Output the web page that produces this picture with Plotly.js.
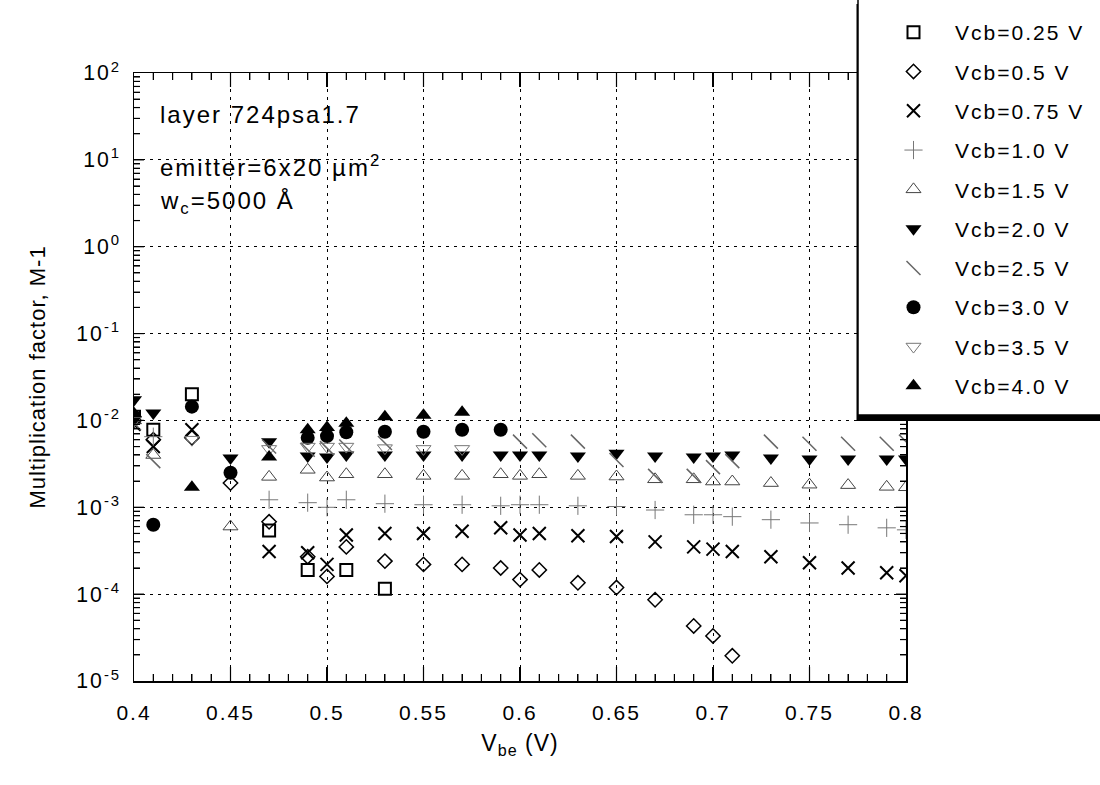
<!DOCTYPE html>
<html>
<head>
<meta charset="utf-8">
<script src="https://cdn.plot.ly/plotly-3.0.1.min.js"></script>
<style>
  html, body { margin: 0; padding: 0; background: #fff; }
  #chart { width: 1100px; height: 785px; }
  .xtick text, .ytick text { letter-spacing: 2px; }
  .legendtext { letter-spacing: 2px; }
  .annotation-text { letter-spacing: 2px; }
  text.xtitle, text.ytitle { letter-spacing: 1px; }
</style>
</head>
<body>
<div id="chart"></div>
<script>
// ---- data (Vbe in V, M-1) ----
const seriesNames = ['Vcb=0.25 V','Vcb=0.5 V','Vcb=0.75 V','Vcb=1.0 V','Vcb=1.5 V',
                     'Vcb=2.0 V','Vcb=2.5 V','Vcb=3.0 V','Vcb=3.5 V','Vcb=4.0 V'];

const vcb025_x = [0.40,0.41,0.43,0.47,0.49,0.51,0.53];
const vcb025_y = [0.011,0.0078,0.020,5.4e-4,1.9e-4,1.9e-4,1.15e-4];

const vcb05_x = [0.40,0.41,0.43,0.45,0.47,0.49,0.50,0.51,0.53,0.55,0.57,0.59,0.60,0.61,0.63,0.65,0.67,0.69,0.70,0.71];
const vcb05_y = [0.010,0.0060,0.0063,0.0019,6.8e-4,2.7e-4,1.6e-4,3.5e-4,2.4e-4,2.2e-4,2.2e-4,2.0e-4,1.47e-4,1.9e-4,1.35e-4,1.19e-4,8.6e-5,4.3e-5,3.3e-5,1.95e-5];

const vcb075_x = [0.40,0.41,0.43,0.47,0.49,0.50,0.51,0.53,0.55,0.57,0.59,0.60,0.61,0.63,0.65,0.67,0.69,0.70,0.71,0.73,0.75,0.77,0.79,0.80];
const vcb075_y = [0.009,0.0050,0.0078,3.1e-4,3.0e-4,2.2e-4,4.8e-4,5.0e-4,5.0e-4,5.3e-4,5.8e-4,4.8e-4,5.0e-4,4.7e-4,4.6e-4,4.0e-4,3.5e-4,3.3e-4,3.1e-4,2.7e-4,2.3e-4,2.0e-4,1.76e-4,1.63e-4];

const vcb10_x = [0.40,0.41,0.47,0.49,0.50,0.51,0.53,0.55,0.57,0.59,0.60,0.61,0.63,0.65,0.67,0.69,0.70,0.71,0.73,0.75,0.77,0.79,0.80];
const vcb10_y = [0.010,0.0065,0.00122,0.00113,0.0010,0.00122,0.0011,0.00107,0.00107,0.00104,0.00107,0.00107,0.00104,0.00102,9.3e-4,8.2e-4,8.2e-4,7.8e-4,7.2e-4,6.6e-4,6.3e-4,5.8e-4,5.5e-4];

const vcb15_x = [0.40,0.41,0.45,0.47,0.49,0.50,0.51,0.53,0.55,0.57,0.59,0.60,0.61,0.63,0.65,0.67,0.69,0.70,0.71,0.73,0.75,0.77,0.79,0.80];
const vcb15_y = [0.010,0.0040,6.0e-4,0.00224,0.0027,0.0022,0.0024,0.0024,0.0023,0.0023,0.0024,0.0023,0.0024,0.0023,0.00226,0.0021,0.0021,0.00198,0.00198,0.0019,0.00182,0.0018,0.00172,0.0017];

const vcb20_x = [0.40,0.41,0.45,0.47,0.49,0.50,0.51,0.53,0.55,0.57,0.59,0.60,0.61,0.63,0.65,0.67,0.69,0.70,0.71,0.73,0.75,0.77,0.79,0.80];
const vcb20_y = [0.0173,0.0122,0.0037,0.0057,0.0039,0.0038,0.0040,0.0040,0.0040,0.0040,0.0040,0.0040,0.0040,0.0039,0.0042,0.0039,0.0038,0.0039,0.0040,0.0037,0.0036,0.0036,0.0036,0.0036];

const vcb25_x = [0.40,0.41,0.47,0.49,0.50,0.51,0.53,0.60,0.61,0.63,0.65,0.67,0.69,0.70,0.71,0.73,0.75,0.77,0.79,0.80];
const vcb25_y = [0.0093,0.0034,0.0050,0.0046,0.0048,0.0050,0.0055,0.0057,0.0059,0.0057,0.0035,0.0023,0.0023,0.0029,0.0034,0.0057,0.0054,0.0054,0.0054,0.0057];

const vcb30_x = [0.40,0.41,0.43,0.45,0.49,0.50,0.51,0.53,0.55,0.57,0.59];
const vcb30_y = [0.011,6.3e-4,0.0144,0.0025,0.0063,0.0066,0.0073,0.0074,0.0074,0.0078,0.0078];

const vcb35_x = [0.40,0.43,0.47,0.49,0.50,0.51,0.53,0.55,0.57];
const vcb35_y = [0.010,0.0060,0.0047,0.0050,0.0050,0.0050,0.0048,0.0047,0.0047];

const vcb40_x = [0.40,0.43,0.47,0.49,0.50,0.51,0.53,0.55,0.57];
const vcb40_y = [0.012,0.0017,0.0038,0.0078,0.0083,0.0093,0.011,0.0115,0.0124];

// tick labels
const yTickExp  = [-5,-4,-3,-2,-1,0,1,2];
const yTickText = ['10<sup>-5</sup>','10<sup>-4</sup>','10<sup>-3</sup>','10<sup>-2</sup>',
                   '10<sup>-1</sup>','10<sup>0</sup>','10<sup>1</sup>','10<sup>2</sup>'];
const xTickText = ['0.4','0.45','0.5','0.55','0.6','0.65','0.7','0.75','0.8'];

// map Plotly's default power-format labels onto the reference's labels
const yAlias = {};
yTickExp.forEach((p, i) => {
  let def;
  if (p === 0) def = '1';
  else if (p === 1) def = '10';
  else def = '10<sup>' + (p > 1 ? '' : '\u2212') + Math.abs(p) + '</sup>';
  yAlias[def] = yTickText[i];
});
const xAlias = {};
xTickText.forEach(t => { xAlias[t] = t; });

// ---- styles ----
const xs = [vcb025_x,vcb05_x,vcb075_x,vcb10_x,vcb15_x,vcb20_x,vcb25_x,vcb30_x,vcb35_x,vcb40_x];
const ys = [vcb025_y,vcb05_y,vcb075_y,vcb10_y,vcb15_y,vcb20_y,vcb25_y,vcb30_y,vcb35_y,vcb40_y];
const markers = [
  {symbol:'square-open', size:12, color:'#000', line:{width:2, color:'#000'}},
  {symbol:'diamond-open', size:11, color:'#000', line:{width:1.5, color:'#000'}},
  {symbol:'x-thin-open', size:13, color:'#000', line:{width:2, color:'#000'}},
  {symbol:'cross-thin-open', size:13, color:'#777', line:{width:1, color:'#777'}},
  {symbol:'triangle-up-open', size:13, color:'#444', line:{width:1, color:'#444'}},
  {symbol:'triangle-down', size:14, color:'#000', line:{width:0}},
  {symbol:'line-nw-open', size:14, color:'#666', line:{width:1.5, color:'#666'}},
  {symbol:'circle', size:14, color:'#000', line:{width:0}},
  {symbol:'triangle-down-open', size:13, color:'#777', line:{width:1, color:'#777'}},
  {symbol:'triangle-up', size:14, color:'#000', line:{width:0}}
];

const traces = seriesNames.map((name, i) => ({
  type:'scatter', mode:'markers', name:name,
  x: xs[i], y: ys[i],
  marker: markers[i],
  legendgroup: 'g' + i,
  cliponaxis: true
}));

// pixel helpers for paper coords (plot area: x 134..906, y 73..681)
const PL = 134, PR = 906, PT = 73, PB = 681;
const W = PR - PL, H = PB - PT;
const px = v => (v - PL) / W;
const py = v => (PB - v) / H;

// axis tick marks (inside, mirrored) drawn as thin filled rectangles in paper space
const XMIN = 0.4, XMAX = 0.8, YLMIN = -5, YLMAX = 2;
const tickShapes = [];
function tbar(x0, x1, y0, y1) {
  tickShapes.push({type:'rect', xref:'paper', yref:'paper', layer:'above',
    x0:x0, x1:x1, y0:y0, y1:y1, fillcolor:'#000', line:{width:0}});
}
const hw = 0.6 / W, hh = 0.6 / H;   // half thickness of a tick bar
for (let k = 41; k < 80; k++) {
  const fx = (k / 100 - XMIN) / (XMAX - XMIN);
  const len = ((k % 5 === 0) ? 14 : 7) / H;
  tbar(fx - hw, fx + hw, 0, len);
  tbar(fx - hw, fx + hw, 1 - len, 1);
}
for (let e = YLMIN; e < YLMAX; e++) {
  for (let m = 1; m <= 9; m++) {
    if (e === YLMIN && m === 1) continue;
    const fy = (e + Math.log10(m) - YLMIN) / (YLMAX - YLMIN);
    const len = ((m === 1) ? 10 : 6) / W;
    tbar(0, len, fy - hh, fy + hh);
    tbar(1 - len, 1, fy - hh, fy + hh);
  }
}

const FONT = 'Liberation Sans, Arial, Helvetica, sans-serif';

const layout = {
  width: 1100, height: 785,
  margin: {l: PL, r: 1100 - PR, t: PT, b: 785 - PB, autoexpand: false},
  paper_bgcolor: '#fff', plot_bgcolor: '#fff',
  font: {family: FONT, color: '#000', size: 20},
  showlegend: true,
  xaxis: {
    range: [XMIN, XMAX], type: 'linear',
    tickmode: 'linear', tick0: 0.4, dtick: 0.05, labelalias: xAlias,
    ticks: 'inside', ticklen: 14, tickwidth: 1.2, tickcolor: '#000',
    showline: true, linecolor: '#000', linewidth: 1.5, mirror: 'allticks',
    showgrid: true, gridcolor: '#000', gridwidth: 1, griddash: '3px,5px',
    zeroline: false,
    ticklabelstandoff: 12,
    tickfont: {size: 21, family: FONT},
    minor: {tick0: 0.4, dtick: 0.01, ticks: 'inside', ticklen: 7, tickcolor: '#000', tickwidth: 1, showgrid: false},
    title: {text: 'V<sub>be</sub> (V)', font: {size: 23, family: FONT}, standoff: 12}
  },
  yaxis: {
    type: 'log', range: [YLMIN, YLMAX],
    tickmode: 'linear', tick0: 0, dtick: 1, exponentformat: 'power', labelalias: yAlias,
    ticks: 'inside', ticklen: 10, tickwidth: 1.2, tickcolor: '#000',
    showline: true, linecolor: '#000', linewidth: 1.5, mirror: 'allticks',
    showgrid: true, gridcolor: '#000', gridwidth: 1, griddash: '3px,5px',
    zeroline: false,
    ticklabelstandoff: 8,
    tickfont: {size: 17, family: FONT},
    minor: {dtick: 'D1', ticks: 'inside', ticklen: 6, tickcolor: '#000', tickwidth: 1, showgrid: false},
    title: {text: 'Multiplication factor, M-1', font: {size: 22, family: FONT}, standoff: 24}
  },
  legend: {
    x: px(872), y: py(12), xanchor: 'left', yanchor: 'top',
    bgcolor: 'rgba(0,0,0,0)', borderwidth: 0,
    font: {size: 21, family: FONT, color: '#000'},
    traceorder: 'grouped', tracegroupgap: 9, itemwidth: 73
  },
  shapes: tickShapes.concat([
    {type:'rect', xref:'paper', yref:'paper', layer:'above',
     x0: px(856.5), x1: px(1106), y0: py(421), y1: py(4),
     fillcolor:'#000', line:{width:0}},
    {type:'rect', xref:'paper', yref:'paper', layer:'above',
     x0: px(858), x1: px(1106), y0: py(415), y1: py(-2),
     fillcolor:'#fff', line:{width:1.5, color:'#000'}}
  ]),
  annotations: [
    {xref:'paper', yref:'paper', x: px(158), y: py(114), xanchor:'left', yanchor:'middle',
     text:'layer 724psa1.7', showarrow:false, font:{size:24, family: FONT}},
    {xref:'paper', yref:'paper', x: px(158), y: py(166), xanchor:'left', yanchor:'middle',
     text:'emitter=6x20 \u00b5m<sup>2</sup>', showarrow:false, font:{size:24, family: FONT}},
    {xref:'paper', yref:'paper', x: px(158), y: py(203), xanchor:'left', yanchor:'middle',
     text:'w<sub>c</sub>=5000 \u00c5', showarrow:false, font:{size:24, family: FONT}}
  ]
};

Plotly.newPlot('chart', traces, layout, {displayModeBar: false, staticPlot: true});
</script>
</body>
</html>
